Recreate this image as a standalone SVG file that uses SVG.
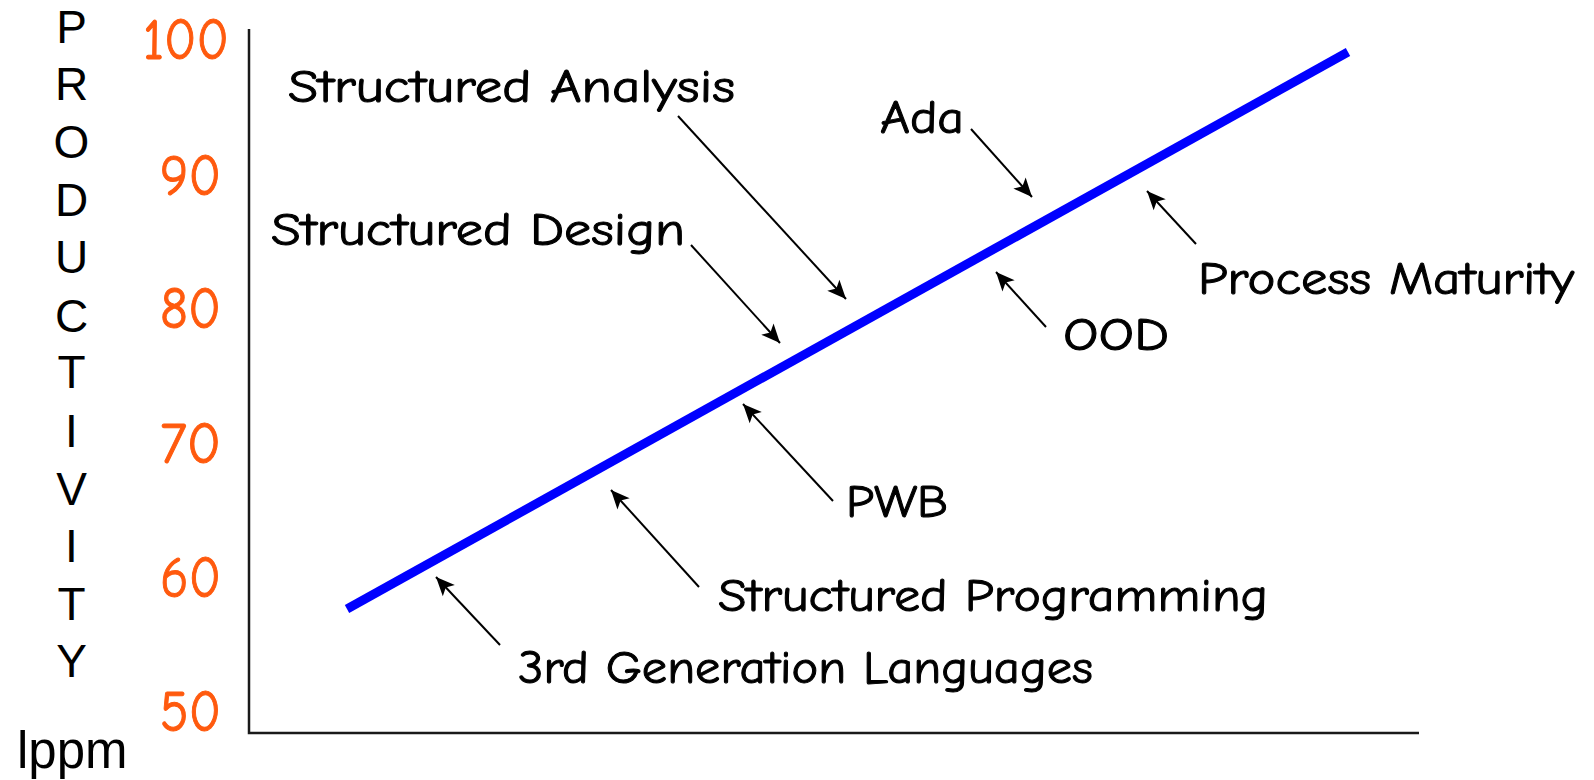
<svg xmlns="http://www.w3.org/2000/svg" width="1594" height="780" viewBox="0 0 1594 780">
  <style>
    .axis-title { font-family: "Liberation Sans", Arial, sans-serif; font-size: 46px; fill: #000; text-anchor: middle; }
    .unit { font-family: "Liberation Sans", Arial, sans-serif; font-size: 51px; fill: #000; }
    .tick { font-family: "Comic Sans MS", "Comic Neue", "Open Sans", sans-serif; font-size: 58px; fill: #FF5A0E; stroke: #FF5A0E; stroke-width: 1; }
    .label { font-family: "Comic Sans MS", "Comic Neue", "Open Sans", sans-serif; font-size: 47px; fill: #000; stroke: #000; stroke-width: 1; }
    .axis { stroke: #1a1a1a; stroke-width: 2.5; fill: none; }
    .trend { stroke: #0000FF; stroke-width: 9; fill: none; stroke-linecap: butt; }
    .pointer { stroke: #000; stroke-width: 2; fill: none; marker-end: url(#head); }
  </style>
  <defs>
    <marker id="head" markerUnits="userSpaceOnUse" markerWidth="22" markerHeight="22" viewBox="-18 -9 20 18" refX="0" refY="0" orient="auto">
      <path d="M0,0 L-17,-7.5 L-13,0 L-17,7.5 Z" fill="#000"/>
    </marker>
  </defs>

  <rect width="1594" height="780" fill="#fff"/>

  <!-- vertical axis title, one letter per line -->
  <g id="y-title">
    <text class="axis-title" x="71.5" y="43">P</text>
    <text class="axis-title" x="71.5" y="100">R</text>
    <text class="axis-title" x="71.5" y="158">O</text>
    <text class="axis-title" x="71.5" y="216">D</text>
    <text class="axis-title" x="71.5" y="273">U</text>
    <text class="axis-title" x="71.5" y="332">C</text>
    <text class="axis-title" x="71.5" y="388">T</text>
    <text class="axis-title" x="71.5" y="447">I</text>
    <text class="axis-title" x="71.5" y="505">V</text>
    <text class="axis-title" x="71.5" y="562">I</text>
    <text class="axis-title" x="71.5" y="620">T</text>
    <text class="axis-title" x="71.5" y="677">Y</text>
  </g>
  <g id="y-unit">
    <text class="unit" x="17" y="768">lppm</text>
  </g>

  <!-- tick values -->
  <g id="y-ticks">
    <text class="tick" x="143" y="59" textLength="86" lengthAdjust="spacingAndGlyphs">100</text>
    <text class="tick" x="160" y="195" textLength="61" lengthAdjust="spacingAndGlyphs">90</text>
    <text class="tick" x="160" y="328" textLength="61" lengthAdjust="spacingAndGlyphs">80</text>
    <text class="tick" x="160" y="463" textLength="61" lengthAdjust="spacingAndGlyphs">70</text>
    <text class="tick" x="160" y="597" textLength="61" lengthAdjust="spacingAndGlyphs">60</text>
    <text class="tick" x="160" y="731" textLength="61" lengthAdjust="spacingAndGlyphs">50</text>
  </g>

  <!-- axes -->
  <g id="axes">
    <polyline class="axis" points="249,29 249,733 1419,733"/>
  </g>

  <!-- productivity trend -->
  <g id="trend">
    <line class="trend" x1="347" y1="609" x2="1348" y2="52"/>
  </g>

  <!-- technology labels -->
  <g id="structured-analysis">
    <text class="label" x="288" y="102" textLength="447" lengthAdjust="spacingAndGlyphs">Structured Analysis</text>
  </g>
  <g id="ada">
    <text class="label" x="880" y="133" textLength="84" lengthAdjust="spacingAndGlyphs">Ada</text>
  </g>
  <g id="structured-design">
    <text class="label" x="271" y="245" textLength="414" lengthAdjust="spacingAndGlyphs">Structured Design</text>
  </g>
  <g id="process-maturity">
    <text class="label" x="1198" y="294" textLength="376" lengthAdjust="spacingAndGlyphs">Process Maturity</text>
  </g>
  <g id="ood">
    <text class="label" x="1063" y="350" textLength="106" lengthAdjust="spacingAndGlyphs">OOD</text>
  </g>
  <g id="pwb">
    <text class="label" x="846" y="517" textLength="102" lengthAdjust="spacingAndGlyphs">PWB</text>
  </g>
  <g id="structured-programming">
    <text class="label" x="718" y="611" textLength="550" lengthAdjust="spacingAndGlyphs">Structured Programming</text>
  </g>
  <g id="third-generation-languages">
    <text class="label" x="518" y="683" textLength="575" lengthAdjust="spacingAndGlyphs">3rd Generation Languages</text>
  </g>

  <!-- pointers from labels to the trend line -->
  <g id="connectors">
    <line class="pointer" x1="678" y1="116" x2="846" y2="299"/>
    <line class="pointer" x1="691" y1="245" x2="780" y2="343"/>
    <line class="pointer" x1="971" y1="129" x2="1032" y2="197"/>
    <line class="pointer" x1="1196" y1="244" x2="1147" y2="191"/>
    <line class="pointer" x1="1046" y1="327" x2="996" y2="272"/>
    <line class="pointer" x1="833" y1="501" x2="743" y2="404"/>
    <line class="pointer" x1="699" y1="587" x2="611" y2="490"/>
    <line class="pointer" x1="500" y1="645" x2="436" y2="577"/>
  </g>
</svg>
